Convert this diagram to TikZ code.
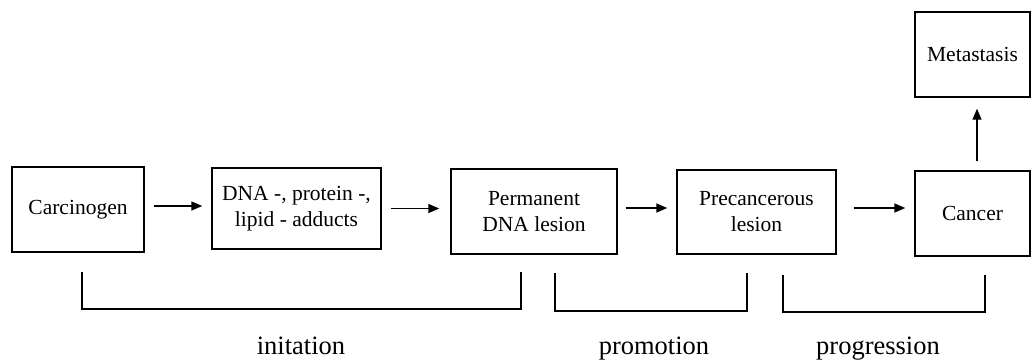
\documentclass[tikz,border=0pt]{standalone}
\usepackage{fontspec}
\setmainfont{Liberation Serif}
\usetikzlibrary{arrows.meta}
\tikzset{
  stagebox/.style={draw, line width=1.4pt, inner sep=0pt, align=center,
    font=\fontsize{21.5}{26}\selectfont},
  flowarrow/.style={line width=1.4pt, -{Triangle[length=11pt,width=9pt]}},
  bracketline/.style={line width=1.3pt},
  phaselabel/.style={anchor=base, inner sep=0pt, font=\fontsize{26.5}{30}\selectfont}
}
\begin{document}
\begin{tikzpicture}[x=1pt,y=-1pt]
\useasboundingbox (0,0) rectangle (1031,361);
% boxes
\node[stagebox, minimum width=132pt, minimum height=85pt] (carc) at (78,209.5) {Carcinogen};
\node[stagebox, minimum width=169pt, minimum height=81pt] (dna) at (296.5,208.5) {DNA -, protein -,\\lipid - adducts};
\node[stagebox, minimum width=166pt, minimum height=85pt] (perm) at (534,211.5) {Permanent\\DNA lesion};
\node[stagebox, minimum width=159pt, minimum height=84pt] (prec) at (756.5,212) {Precancerous\\lesion};
\node[stagebox, minimum width=115pt, minimum height=85pt] (canc) at (972.5,213.5) {Cancer};
\node[stagebox, minimum width=115pt, minimum height=85pt] (meta) at (972.5,54.5) {Metastasis};
% arrows
\draw[flowarrow, shorten <=9pt, shorten >=9pt] ([yshift=3.5pt]carc.east) -- ([yshift=3.5pt]carc.east -| dna.west);
\draw[flowarrow, shorten <=9pt, shorten >=11pt] (dna.east) -- (dna.east -| perm.west);
\draw[flowarrow, shorten <=8pt, shorten >=9pt] ([yshift=3.5pt]perm.east) -- ([yshift=3.5pt]perm.east -| prec.west);
\draw[flowarrow, shorten <=17pt, shorten >=9pt] ([yshift=4pt]prec.east) -- ([yshift=4pt]prec.east -| canc.west);
\draw[flowarrow, shorten <=9pt, shorten >=11pt] ([xshift=4.5pt]canc.north) -- ([xshift=4.5pt]meta.south);
% brackets
\draw[bracketline] (82,272) |- (521,309) -- (521,272);
\draw[bracketline] (555,273) |- (747,311) -- (747,273);
\draw[bracketline] (783,275) |- (985,312) -- (985,275);
% phase labels
\node[phaselabel] (init) at (301,354) {initation};
\node[phaselabel] (prom) at (654,354) {promotion};
\node[phaselabel] (prog) at (878,354) {progression};
\end{tikzpicture}
\end{document}
